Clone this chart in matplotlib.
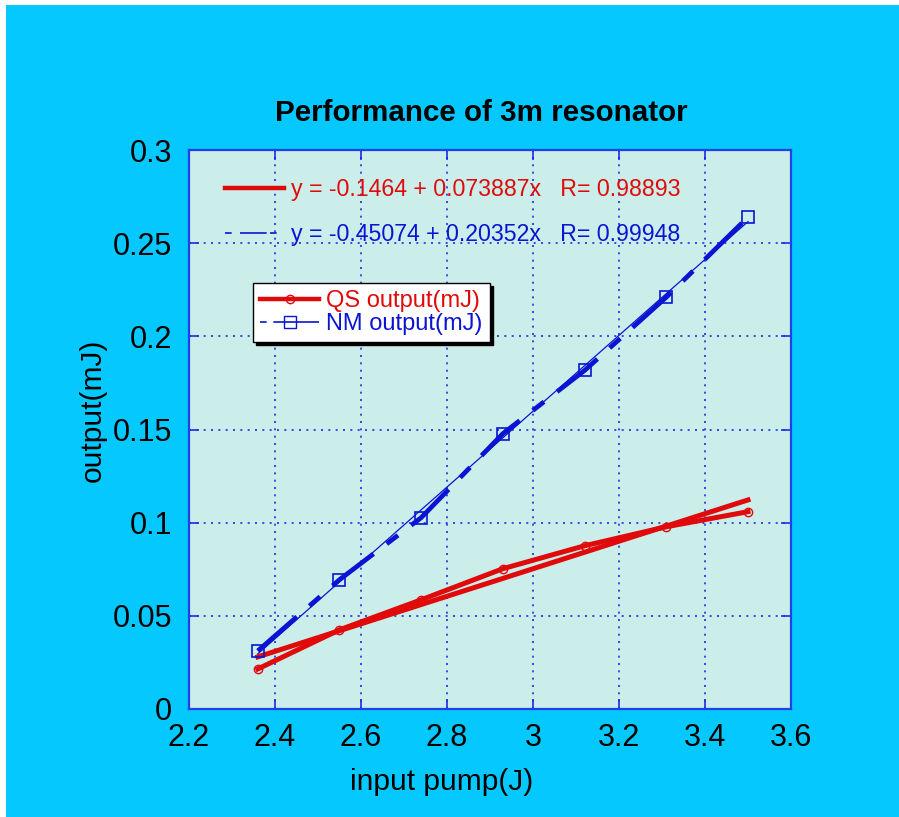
import matplotlib
matplotlib.use('Agg')
import matplotlib.pyplot as plt
from matplotlib.lines import Line2D
from matplotlib.patches import Rectangle
import numpy as np

# data
pump = [2.36, 2.55, 2.74, 2.93, 3.12, 3.31, 3.50]
qs_out = [0.0215, 0.0425, 0.0586, 0.0753, 0.0876, 0.0978, 0.1059]
nm_out = [0.0312, 0.0694, 0.1027, 0.1478, 0.1817, 0.2210, 0.2640]

# linear fits as printed on the chart: (intercept, slope, R)
qs_fit = (-0.1464, 0.073887, 0.98893)
nm_fit = (-0.45074, 0.20352, 0.99948)

xticks = [2.2, 2.4, 2.6, 2.8, 3.0, 3.2, 3.4, 3.6]
yticks = [0, 0.05, 0.1, 0.15, 0.2, 0.25, 0.3]

RED = '#e00a0a'
BLUE = '#0a14d2'
GRIDC = '#1a2ee6'

plt.rcParams['font.family'] = ['Liberation Sans', 'DejaVu Sans']

fig = plt.figure(figsize=(8.99, 8.17), dpi=100, facecolor='white')
fig.patches.append(Rectangle((6 / 899, -0.01), 1.02, 1.01 - 5 / 817, transform=fig.transFigure,
                             facecolor='#05c8ff', edgecolor='none', zorder=-10))

ax = fig.add_axes([189 / 899, 1 - 709 / 817, 602 / 899, 559 / 817])
ax.set_facecolor('#cceeea')

x = np.array(pump)

# data lines
ax.plot(x, qs_out, color=RED, lw=3.6, marker='o', ms=6, mfc='none', mec=RED, mew=1.0, zorder=3)
ax.plot(x, nm_out, color=BLUE, lw=3.4, dashes=(11, 3.5, 3, 3.5), zorder=3)
ax.plot(x, nm_out, ls='none', marker='s', ms=9, mfc='none', mec=BLUE, mew=1.2, zorder=4)

# fit lines
ax.plot(x, qs_fit[0] + qs_fit[1] * x, color=RED, lw=3.6, zorder=3)
ax.plot(x, nm_fit[0] + nm_fit[1] * x, color=BLUE, lw=0.9, zorder=3)

ax.set_xlim(2.2, 3.6)
ax.set_ylim(0, 0.3)
ax.set_xticks(xticks)
ax.set_yticks(yticks)
ax.set_xticklabels(['%g' % t for t in xticks])
ax.set_yticklabels(['%g' % t for t in yticks])

ax.grid(True, color=GRIDC, linestyle=(0, (1.2, 3.2)), linewidth=1.2)
ax.tick_params(direction='in', length=7, width=1.2, color=GRIDC, labelsize=22,
               top=True, right=True, pad=12)
ax.tick_params(axis='x', pad=10)
for s in ax.spines.values():
    s.set_color('#2040e8')
    s.set_linewidth(1.6)

ax.set_xlabel('input pump(J)', fontsize=21.5)
ax.set_ylabel('output(mJ)', fontsize=21.5)
ax.xaxis.set_label_coords(0.419, -0.106)
ax.yaxis.set_label_coords(-0.136, 0.535)
ax.set_title('Performance of 3m resonator', fontsize=21.3, fontweight='bold', pad=21, x=0.485)

# fit legend (no frame)
fit_handles = [Line2D([], [], color=RED, lw=3.2),
               Line2D([], [], color=BLUE, lw=1.2, dashes=(4, 5, 16, 2))]
fit_labels = ['y = %g + %gx   R= %g' % qs_fit, 'y = %g + %gx   R= %g' % nm_fit]
leg1 = ax.legend(fit_handles, fit_labels, loc='upper left', bbox_to_anchor=(0.025, 0.987),
                 frameon=False, fontsize=16.7, handlelength=2.55, handletextpad=0.3,
                 labelspacing=0.95, labelcolor=[RED, BLUE])
ax.add_artist(leg1)

# data legend (boxed, with shadow)
data_handles = [Line2D([], [], color=RED, lw=3.2, marker='o', ms=6, mfc='none', mec=RED),
                Line2D([], [], color=BLUE, lw=1.2, marker='s', ms=8, mfc='none', mec=BLUE,
                       dashes=(4, 4, 30, 2))]
leg2 = ax.legend(data_handles, ['QS output(mJ)', 'NM output(mJ)'], loc='upper left',
                 bbox_to_anchor=(0.087, 0.783), fontsize=17, handlelength=2.5,
                 handletextpad=0.3, labelspacing=0.05, borderpad=0.3, numpoints=1,
                 fancybox=False, framealpha=1, edgecolor='black', facecolor='white',
                 shadow={'color': 'black', 'alpha': 1}, labelcolor=[RED, BLUE])
leg2.get_frame().set_linewidth(1.0)

fig.savefig('out.png', dpi=100, facecolor=fig.get_facecolor())
